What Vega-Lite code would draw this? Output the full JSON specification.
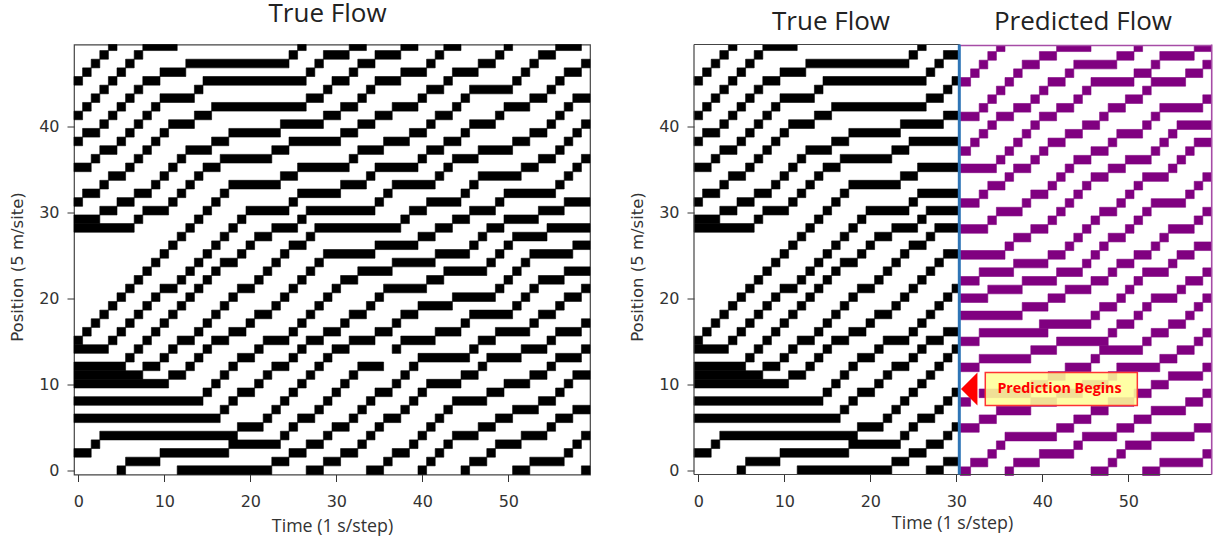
{"$schema":"https://vega.github.io/schema/vega-lite/v6.json","background":"white","padding":{"left":9,"top":0.5,"right":5,"bottom":5},"bounds":"flush","spacing":104,
"config":{"view":{"stroke":"#444","strokeWidth":1.2},"axis":{"grid":false,"domain":false,"labelFont":"DejaVu Sans","labelFontSize":16,"labelColor":"#333","labelPadding":8,"tickColor":"#333","tickSize":7,"titleFontWeight":"normal","titleColor":"#333"}},
"datasets":{
"trueFlow":[
{"s":3.5,"e":4.5,"lo":48.5,"hi":49.2},{"s":7.5,"e":11.5,"lo":48.5,"hi":49.2},{"s":25.5,"e":26.5,"lo":48.5,"hi":49.2},{"s":31.5,"e":33.5,"lo":48.5,"hi":49.2},{"s":37.5,"e":39.5,"lo":48.5,"hi":49.2},{"s":42.5,"e":44.5,"lo":48.5,"hi":49.2},{"s":49.5,"e":50.5,"lo":48.5,"hi":49.2},{"s":55.5,"e":58.5,"lo":48.5,"hi":49.2},
{"s":2.5,"e":3.5,"lo":47.5,"hi":48.5},{"s":6.5,"e":7.5,"lo":47.5,"hi":48.5},{"s":24.5,"e":25.5,"lo":47.5,"hi":48.5},{"s":28.5,"e":31.5,"lo":47.5,"hi":48.5},{"s":34.5,"e":37.5,"lo":47.5,"hi":48.5},{"s":41.5,"e":42.5,"lo":47.5,"hi":48.5},{"s":48.5,"e":49.5,"lo":47.5,"hi":48.5},{"s":53.5,"e":55.5,"lo":47.5,"hi":48.5},
{"s":1.5,"e":2.5,"lo":46.5,"hi":47.5},{"s":5.5,"e":6.5,"lo":46.5,"hi":47.5},{"s":12.5,"e":24.5,"lo":46.5,"hi":47.5},{"s":27.5,"e":28.5,"lo":46.5,"hi":47.5},{"s":32.5,"e":34.5,"lo":46.5,"hi":47.5},{"s":40.5,"e":41.5,"lo":46.5,"hi":47.5},{"s":46.5,"e":48.5,"lo":46.5,"hi":47.5},{"s":52.5,"e":53.5,"lo":46.5,"hi":47.5},{"s":58.5,"e":59.5,"lo":46.5,"hi":47.5},
{"s":0.5,"e":1.5,"lo":45.5,"hi":46.5},{"s":4.5,"e":5.5,"lo":45.5,"hi":46.5},{"s":9.5,"e":12.5,"lo":45.5,"hi":46.5},{"s":26.5,"e":27.5,"lo":45.5,"hi":46.5},{"s":31.5,"e":32.5,"lo":45.5,"hi":46.5},{"s":37.5,"e":40.5,"lo":45.5,"hi":46.5},{"s":43.5,"e":46.5,"lo":45.5,"hi":46.5},{"s":51.5,"e":52.5,"lo":45.5,"hi":46.5},{"s":56.5,"e":58.5,"lo":45.5,"hi":46.5},
{"s":-0.5,"e":0.5,"lo":44.5,"hi":45.5},{"s":3.5,"e":4.5,"lo":44.5,"hi":45.5},{"s":7.5,"e":9.5,"lo":44.5,"hi":45.5},{"s":14.5,"e":26.5,"lo":44.5,"hi":45.5},{"s":29.5,"e":31.5,"lo":44.5,"hi":45.5},{"s":34.5,"e":37.5,"lo":44.5,"hi":45.5},{"s":42.5,"e":43.5,"lo":44.5,"hi":45.5},{"s":50.5,"e":51.5,"lo":44.5,"hi":45.5},{"s":55.5,"e":56.5,"lo":44.5,"hi":45.5},
{"s":2.5,"e":3.5,"lo":43.5,"hi":44.5},{"s":6.5,"e":7.5,"lo":43.5,"hi":44.5},{"s":13.5,"e":14.5,"lo":43.5,"hi":44.5},{"s":28.5,"e":29.5,"lo":43.5,"hi":44.5},{"s":33.5,"e":34.5,"lo":43.5,"hi":44.5},{"s":40.5,"e":42.5,"lo":43.5,"hi":44.5},{"s":45.5,"e":50.5,"lo":43.5,"hi":44.5},{"s":54.5,"e":55.5,"lo":43.5,"hi":44.5},
{"s":1.5,"e":2.5,"lo":42.5,"hi":43.5},{"s":5.5,"e":6.5,"lo":42.5,"hi":43.5},{"s":9.5,"e":13.5,"lo":42.5,"hi":43.5},{"s":26.5,"e":28.5,"lo":42.5,"hi":43.5},{"s":32.5,"e":33.5,"lo":42.5,"hi":43.5},{"s":39.5,"e":40.5,"lo":42.5,"hi":43.5},{"s":44.5,"e":45.5,"lo":42.5,"hi":43.5},{"s":52.5,"e":54.5,"lo":42.5,"hi":43.5},{"s":57.5,"e":59.5,"lo":42.5,"hi":43.5},
{"s":0.5,"e":1.5,"lo":41.5,"hi":42.5},{"s":4.5,"e":5.5,"lo":41.5,"hi":42.5},{"s":8.5,"e":9.5,"lo":41.5,"hi":42.5},{"s":15.5,"e":26.5,"lo":41.5,"hi":42.5},{"s":30.5,"e":32.5,"lo":41.5,"hi":42.5},{"s":36.5,"e":39.5,"lo":41.5,"hi":42.5},{"s":43.5,"e":44.5,"lo":41.5,"hi":42.5},{"s":49.5,"e":52.5,"lo":41.5,"hi":42.5},{"s":56.5,"e":57.5,"lo":41.5,"hi":42.5},
{"s":-0.5,"e":0.5,"lo":40.5,"hi":41.5},{"s":3.5,"e":4.5,"lo":40.5,"hi":41.5},{"s":7.5,"e":8.5,"lo":40.5,"hi":41.5},{"s":13.5,"e":15.5,"lo":40.5,"hi":41.5},{"s":28.5,"e":30.5,"lo":40.5,"hi":41.5},{"s":34.5,"e":36.5,"lo":40.5,"hi":41.5},{"s":41.5,"e":43.5,"lo":40.5,"hi":41.5},{"s":48.5,"e":49.5,"lo":40.5,"hi":41.5},{"s":55.5,"e":56.5,"lo":40.5,"hi":41.5},
{"s":2.5,"e":3.5,"lo":39.5,"hi":40.5},{"s":6.5,"e":7.5,"lo":39.5,"hi":40.5},{"s":10.5,"e":13.5,"lo":39.5,"hi":40.5},{"s":23.5,"e":28.5,"lo":39.5,"hi":40.5},{"s":32.5,"e":34.5,"lo":39.5,"hi":40.5},{"s":40.5,"e":41.5,"lo":39.5,"hi":40.5},{"s":45.5,"e":48.5,"lo":39.5,"hi":40.5},{"s":54.5,"e":55.5,"lo":39.5,"hi":40.5},{"s":58.5,"e":59.5,"lo":39.5,"hi":40.5},
{"s":0.5,"e":2.5,"lo":38.5,"hi":39.5},{"s":5.5,"e":6.5,"lo":38.5,"hi":39.5},{"s":9.5,"e":10.5,"lo":38.5,"hi":39.5},{"s":17.5,"e":23.5,"lo":38.5,"hi":39.5},{"s":30.5,"e":32.5,"lo":38.5,"hi":39.5},{"s":38.5,"e":40.5,"lo":38.5,"hi":39.5},{"s":44.5,"e":45.5,"lo":38.5,"hi":39.5},{"s":52.5,"e":54.5,"lo":38.5,"hi":39.5},{"s":57.5,"e":58.5,"lo":38.5,"hi":39.5},
{"s":-0.5,"e":0.5,"lo":37.5,"hi":38.5},{"s":4.5,"e":5.5,"lo":37.5,"hi":38.5},{"s":8.5,"e":9.5,"lo":37.5,"hi":38.5},{"s":15.5,"e":17.5,"lo":37.5,"hi":38.5},{"s":24.5,"e":30.5,"lo":37.5,"hi":38.5},{"s":35.5,"e":38.5,"lo":37.5,"hi":38.5},{"s":42.5,"e":44.5,"lo":37.5,"hi":38.5},{"s":50.5,"e":52.5,"lo":37.5,"hi":38.5},{"s":56.5,"e":57.5,"lo":37.5,"hi":38.5},
{"s":2.5,"e":4.5,"lo":36.5,"hi":37.5},{"s":7.5,"e":8.5,"lo":36.5,"hi":37.5},{"s":12.5,"e":15.5,"lo":36.5,"hi":37.5},{"s":22.5,"e":24.5,"lo":36.5,"hi":37.5},{"s":32.5,"e":35.5,"lo":36.5,"hi":37.5},{"s":40.5,"e":42.5,"lo":36.5,"hi":37.5},{"s":46.5,"e":50.5,"lo":36.5,"hi":37.5},{"s":55.5,"e":56.5,"lo":36.5,"hi":37.5},
{"s":1.5,"e":2.5,"lo":35.5,"hi":36.5},{"s":6.5,"e":7.5,"lo":35.5,"hi":36.5},{"s":11.5,"e":12.5,"lo":35.5,"hi":36.5},{"s":16.5,"e":22.5,"lo":35.5,"hi":36.5},{"s":31.5,"e":32.5,"lo":35.5,"hi":36.5},{"s":39.5,"e":40.5,"lo":35.5,"hi":36.5},{"s":43.5,"e":46.5,"lo":35.5,"hi":36.5},{"s":53.5,"e":55.5,"lo":35.5,"hi":36.5},{"s":58.5,"e":59.5,"lo":35.5,"hi":36.5},
{"s":-0.5,"e":1.5,"lo":34.5,"hi":35.5},{"s":5.5,"e":6.5,"lo":34.5,"hi":35.5},{"s":10.5,"e":11.5,"lo":34.5,"hi":35.5},{"s":14.5,"e":16.5,"lo":34.5,"hi":35.5},{"s":25.5,"e":31.5,"lo":34.5,"hi":35.5},{"s":34.5,"e":39.5,"lo":34.5,"hi":35.5},{"s":42.5,"e":43.5,"lo":34.5,"hi":35.5},{"s":51.5,"e":53.5,"lo":34.5,"hi":35.5},{"s":57.5,"e":58.5,"lo":34.5,"hi":35.5},
{"s":3.5,"e":5.5,"lo":33.5,"hi":34.5},{"s":9.5,"e":10.5,"lo":33.5,"hi":34.5},{"s":13.5,"e":14.5,"lo":33.5,"hi":34.5},{"s":23.5,"e":25.5,"lo":33.5,"hi":34.5},{"s":33.5,"e":34.5,"lo":33.5,"hi":34.5},{"s":41.5,"e":42.5,"lo":33.5,"hi":34.5},{"s":46.5,"e":51.5,"lo":33.5,"hi":34.5},{"s":56.5,"e":57.5,"lo":33.5,"hi":34.5},
{"s":2.5,"e":3.5,"lo":32.5,"hi":33.5},{"s":8.5,"e":9.5,"lo":32.5,"hi":33.5},{"s":12.5,"e":13.5,"lo":32.5,"hi":33.5},{"s":17.5,"e":23.5,"lo":32.5,"hi":33.5},{"s":30.5,"e":33.5,"lo":32.5,"hi":33.5},{"s":36.5,"e":41.5,"lo":32.5,"hi":33.5},{"s":45.5,"e":46.5,"lo":32.5,"hi":33.5},{"s":55.5,"e":56.5,"lo":32.5,"hi":33.5},
{"s":0.5,"e":2.5,"lo":31.5,"hi":32.5},{"s":6.5,"e":8.5,"lo":31.5,"hi":32.5},{"s":11.5,"e":12.5,"lo":31.5,"hi":32.5},{"s":16.5,"e":17.5,"lo":31.5,"hi":32.5},{"s":25.5,"e":30.5,"lo":31.5,"hi":32.5},{"s":35.5,"e":36.5,"lo":31.5,"hi":32.5},{"s":44.5,"e":45.5,"lo":31.5,"hi":32.5},{"s":49.5,"e":55.5,"lo":31.5,"hi":32.5},
{"s":-0.5,"e":0.5,"lo":30.5,"hi":31.5},{"s":4.5,"e":6.5,"lo":30.5,"hi":31.5},{"s":10.5,"e":11.5,"lo":30.5,"hi":31.5},{"s":15.5,"e":16.5,"lo":30.5,"hi":31.5},{"s":24.5,"e":25.5,"lo":30.5,"hi":31.5},{"s":34.5,"e":35.5,"lo":30.5,"hi":31.5},{"s":40.5,"e":44.5,"lo":30.5,"hi":31.5},{"s":48.5,"e":49.5,"lo":30.5,"hi":31.5},{"s":56.5,"e":59.5,"lo":30.5,"hi":31.5},
{"s":2.5,"e":4.5,"lo":29.5,"hi":30.5},{"s":7.5,"e":10.5,"lo":29.5,"hi":30.5},{"s":14.5,"e":15.5,"lo":29.5,"hi":30.5},{"s":19.5,"e":24.5,"lo":29.5,"hi":30.5},{"s":26.5,"e":34.5,"lo":29.5,"hi":30.5},{"s":38.5,"e":40.5,"lo":29.5,"hi":30.5},{"s":45.5,"e":48.5,"lo":29.5,"hi":30.5},{"s":53.5,"e":56.5,"lo":29.5,"hi":30.5},
{"s":-0.5,"e":2.5,"lo":28.5,"hi":29.5},{"s":6.5,"e":7.5,"lo":28.5,"hi":29.5},{"s":13.5,"e":14.5,"lo":28.5,"hi":29.5},{"s":18.5,"e":19.5,"lo":28.5,"hi":29.5},{"s":25.5,"e":26.5,"lo":28.5,"hi":29.5},{"s":37.5,"e":38.5,"lo":28.5,"hi":29.5},{"s":43.5,"e":45.5,"lo":28.5,"hi":29.5},{"s":49.5,"e":53.5,"lo":28.5,"hi":29.5},
{"s":-0.5,"e":6.5,"lo":27.5,"hi":28.5},{"s":12.5,"e":13.5,"lo":27.5,"hi":28.5},{"s":17.5,"e":18.5,"lo":27.5,"hi":28.5},{"s":22.5,"e":25.5,"lo":27.5,"hi":28.5},{"s":27.5,"e":37.5,"lo":27.5,"hi":28.5},{"s":41.5,"e":43.5,"lo":27.5,"hi":28.5},{"s":47.5,"e":49.5,"lo":27.5,"hi":28.5},{"s":54.5,"e":59.5,"lo":27.5,"hi":28.5},
{"s":11.5,"e":12.5,"lo":26.5,"hi":27.5},{"s":16.5,"e":17.5,"lo":26.5,"hi":27.5},{"s":20.5,"e":22.5,"lo":26.5,"hi":27.5},{"s":26.5,"e":27.5,"lo":26.5,"hi":27.5},{"s":39.5,"e":41.5,"lo":26.5,"hi":27.5},{"s":46.5,"e":47.5,"lo":26.5,"hi":27.5},{"s":50.5,"e":54.5,"lo":26.5,"hi":27.5},
{"s":10.5,"e":11.5,"lo":25.5,"hi":26.5},{"s":15.5,"e":16.5,"lo":25.5,"hi":26.5},{"s":19.5,"e":20.5,"lo":25.5,"hi":26.5},{"s":24.5,"e":26.5,"lo":25.5,"hi":26.5},{"s":34.5,"e":39.5,"lo":25.5,"hi":26.5},{"s":45.5,"e":46.5,"lo":25.5,"hi":26.5},{"s":49.5,"e":50.5,"lo":25.5,"hi":26.5},{"s":57.5,"e":59.5,"lo":25.5,"hi":26.5},
{"s":9.5,"e":10.5,"lo":24.5,"hi":25.5},{"s":14.5,"e":15.5,"lo":24.5,"hi":25.5},{"s":18.5,"e":19.5,"lo":24.5,"hi":25.5},{"s":23.5,"e":24.5,"lo":24.5,"hi":25.5},{"s":28.5,"e":34.5,"lo":24.5,"hi":25.5},{"s":41.5,"e":45.5,"lo":24.5,"hi":25.5},{"s":48.5,"e":49.5,"lo":24.5,"hi":25.5},{"s":52.5,"e":57.5,"lo":24.5,"hi":25.5},
{"s":8.5,"e":9.5,"lo":23.5,"hi":24.5},{"s":13.5,"e":14.5,"lo":23.5,"hi":24.5},{"s":16.5,"e":18.5,"lo":23.5,"hi":24.5},{"s":22.5,"e":23.5,"lo":23.5,"hi":24.5},{"s":27.5,"e":28.5,"lo":23.5,"hi":24.5},{"s":36.5,"e":41.5,"lo":23.5,"hi":24.5},{"s":47.5,"e":48.5,"lo":23.5,"hi":24.5},{"s":51.5,"e":52.5,"lo":23.5,"hi":24.5},
{"s":7.5,"e":8.5,"lo":22.5,"hi":23.5},{"s":12.5,"e":13.5,"lo":22.5,"hi":23.5},{"s":15.5,"e":16.5,"lo":22.5,"hi":23.5},{"s":21.5,"e":22.5,"lo":22.5,"hi":23.5},{"s":26.5,"e":27.5,"lo":22.5,"hi":23.5},{"s":32.5,"e":36.5,"lo":22.5,"hi":23.5},{"s":42.5,"e":47.5,"lo":22.5,"hi":23.5},{"s":50.5,"e":51.5,"lo":22.5,"hi":23.5},{"s":56.5,"e":59.5,"lo":22.5,"hi":23.5},
{"s":6.5,"e":7.5,"lo":21.5,"hi":22.5},{"s":11.5,"e":12.5,"lo":21.5,"hi":22.5},{"s":14.5,"e":15.5,"lo":21.5,"hi":22.5},{"s":20.5,"e":21.5,"lo":21.5,"hi":22.5},{"s":25.5,"e":26.5,"lo":21.5,"hi":22.5},{"s":30.5,"e":32.5,"lo":21.5,"hi":22.5},{"s":40.5,"e":42.5,"lo":21.5,"hi":22.5},{"s":49.5,"e":50.5,"lo":21.5,"hi":22.5},{"s":53.5,"e":56.5,"lo":21.5,"hi":22.5},
{"s":5.5,"e":6.5,"lo":20.5,"hi":21.5},{"s":9.5,"e":11.5,"lo":20.5,"hi":21.5},{"s":13.5,"e":14.5,"lo":20.5,"hi":21.5},{"s":18.5,"e":20.5,"lo":20.5,"hi":21.5},{"s":24.5,"e":25.5,"lo":20.5,"hi":21.5},{"s":29.5,"e":30.5,"lo":20.5,"hi":21.5},{"s":35.5,"e":40.5,"lo":20.5,"hi":21.5},{"s":48.5,"e":49.5,"lo":20.5,"hi":21.5},{"s":52.5,"e":53.5,"lo":20.5,"hi":21.5},{"s":58.5,"e":59.5,"lo":20.5,"hi":21.5},
{"s":4.5,"e":5.5,"lo":19.5,"hi":20.5},{"s":8.5,"e":9.5,"lo":19.5,"hi":20.5},{"s":12.5,"e":13.5,"lo":19.5,"hi":20.5},{"s":17.5,"e":18.5,"lo":19.5,"hi":20.5},{"s":23.5,"e":24.5,"lo":19.5,"hi":20.5},{"s":28.5,"e":29.5,"lo":19.5,"hi":20.5},{"s":34.5,"e":35.5,"lo":19.5,"hi":20.5},{"s":43.5,"e":48.5,"lo":19.5,"hi":20.5},{"s":51.5,"e":52.5,"lo":19.5,"hi":20.5},{"s":56.5,"e":58.5,"lo":19.5,"hi":20.5},
{"s":3.5,"e":4.5,"lo":18.5,"hi":19.5},{"s":7.5,"e":8.5,"lo":18.5,"hi":19.5},{"s":11.5,"e":12.5,"lo":18.5,"hi":19.5},{"s":16.5,"e":17.5,"lo":18.5,"hi":19.5},{"s":22.5,"e":23.5,"lo":18.5,"hi":19.5},{"s":27.5,"e":28.5,"lo":18.5,"hi":19.5},{"s":33.5,"e":34.5,"lo":18.5,"hi":19.5},{"s":39.5,"e":43.5,"lo":18.5,"hi":19.5},{"s":50.5,"e":51.5,"lo":18.5,"hi":19.5},{"s":55.5,"e":56.5,"lo":18.5,"hi":19.5},
{"s":2.5,"e":3.5,"lo":17.5,"hi":18.5},{"s":6.5,"e":7.5,"lo":17.5,"hi":18.5},{"s":10.5,"e":11.5,"lo":17.5,"hi":18.5},{"s":15.5,"e":16.5,"lo":17.5,"hi":18.5},{"s":20.5,"e":22.5,"lo":17.5,"hi":18.5},{"s":26.5,"e":27.5,"lo":17.5,"hi":18.5},{"s":31.5,"e":33.5,"lo":17.5,"hi":18.5},{"s":37.5,"e":39.5,"lo":17.5,"hi":18.5},{"s":45.5,"e":50.5,"lo":17.5,"hi":18.5},{"s":53.5,"e":55.5,"lo":17.5,"hi":18.5},
{"s":1.5,"e":2.5,"lo":16.5,"hi":17.5},{"s":5.5,"e":6.5,"lo":16.5,"hi":17.5},{"s":9.5,"e":10.5,"lo":16.5,"hi":17.5},{"s":14.5,"e":15.5,"lo":16.5,"hi":17.5},{"s":19.5,"e":20.5,"lo":16.5,"hi":17.5},{"s":25.5,"e":26.5,"lo":16.5,"hi":17.5},{"s":30.5,"e":31.5,"lo":16.5,"hi":17.5},{"s":36.5,"e":37.5,"lo":16.5,"hi":17.5},{"s":44.5,"e":45.5,"lo":16.5,"hi":17.5},{"s":52.5,"e":53.5,"lo":16.5,"hi":17.5},{"s":58.5,"e":59.5,"lo":16.5,"hi":17.5},
{"s":0.5,"e":1.5,"lo":15.5,"hi":16.5},{"s":4.5,"e":5.5,"lo":15.5,"hi":16.5},{"s":8.5,"e":9.5,"lo":15.5,"hi":16.5},{"s":13.5,"e":14.5,"lo":15.5,"hi":16.5},{"s":17.5,"e":19.5,"lo":15.5,"hi":16.5},{"s":24.5,"e":25.5,"lo":15.5,"hi":16.5},{"s":28.5,"e":30.5,"lo":15.5,"hi":16.5},{"s":34.5,"e":36.5,"lo":15.5,"hi":16.5},{"s":41.5,"e":44.5,"lo":15.5,"hi":16.5},{"s":48.5,"e":52.5,"lo":15.5,"hi":16.5},{"s":55.5,"e":58.5,"lo":15.5,"hi":16.5},
{"s":-0.5,"e":0.5,"lo":14.5,"hi":15.5},{"s":3.5,"e":4.5,"lo":14.5,"hi":15.5},{"s":7.5,"e":8.5,"lo":14.5,"hi":15.5},{"s":11.5,"e":13.5,"lo":14.5,"hi":15.5},{"s":15.5,"e":17.5,"lo":14.5,"hi":15.5},{"s":21.5,"e":24.5,"lo":14.5,"hi":15.5},{"s":26.5,"e":28.5,"lo":14.5,"hi":15.5},{"s":31.5,"e":34.5,"lo":14.5,"hi":15.5},{"s":37.5,"e":41.5,"lo":14.5,"hi":15.5},{"s":46.5,"e":48.5,"lo":14.5,"hi":15.5},{"s":54.5,"e":55.5,"lo":14.5,"hi":15.5},
{"s":-0.5,"e":3.5,"lo":13.5,"hi":14.5},{"s":6.5,"e":7.5,"lo":13.5,"hi":14.5},{"s":10.5,"e":11.5,"lo":13.5,"hi":14.5},{"s":14.5,"e":15.5,"lo":13.5,"hi":14.5},{"s":20.5,"e":21.5,"lo":13.5,"hi":14.5},{"s":25.5,"e":26.5,"lo":13.5,"hi":14.5},{"s":29.5,"e":31.5,"lo":13.5,"hi":14.5},{"s":36.5,"e":37.5,"lo":13.5,"hi":14.5},{"s":45.5,"e":46.5,"lo":13.5,"hi":14.5},{"s":51.5,"e":54.5,"lo":13.5,"hi":14.5},{"s":58.5,"e":59.5,"lo":13.5,"hi":14.5},
{"s":5.5,"e":6.5,"lo":12.5,"hi":13.5},{"s":9.5,"e":10.5,"lo":12.5,"hi":13.5},{"s":13.5,"e":14.5,"lo":12.5,"hi":13.5},{"s":18.5,"e":20.5,"lo":12.5,"hi":13.5},{"s":24.5,"e":25.5,"lo":12.5,"hi":13.5},{"s":28.5,"e":29.5,"lo":12.5,"hi":13.5},{"s":39.5,"e":45.5,"lo":12.5,"hi":13.5},{"s":47.5,"e":51.5,"lo":12.5,"hi":13.5},{"s":55.5,"e":58.5,"lo":12.5,"hi":13.5},
{"s":-0.5,"e":5.5,"lo":11.5,"hi":12.5},{"s":7.5,"e":9.5,"lo":11.5,"hi":12.5},{"s":12.5,"e":13.5,"lo":11.5,"hi":12.5},{"s":17.5,"e":18.5,"lo":11.5,"hi":12.5},{"s":22.5,"e":24.5,"lo":11.5,"hi":12.5},{"s":27.5,"e":28.5,"lo":11.5,"hi":12.5},{"s":32.5,"e":35.5,"lo":11.5,"hi":12.5},{"s":38.5,"e":39.5,"lo":11.5,"hi":12.5},{"s":46.5,"e":47.5,"lo":11.5,"hi":12.5},{"s":54.5,"e":55.5,"lo":11.5,"hi":12.5},
{"s":-0.5,"e":7.5,"lo":10.5,"hi":11.5},{"s":10.5,"e":12.5,"lo":10.5,"hi":11.5},{"s":16.5,"e":17.5,"lo":10.5,"hi":11.5},{"s":21.5,"e":22.5,"lo":10.5,"hi":11.5},{"s":26.5,"e":27.5,"lo":10.5,"hi":11.5},{"s":31.5,"e":32.5,"lo":10.5,"hi":11.5},{"s":37.5,"e":38.5,"lo":10.5,"hi":11.5},{"s":44.5,"e":46.5,"lo":10.5,"hi":11.5},{"s":52.5,"e":54.5,"lo":10.5,"hi":11.5},{"s":57.5,"e":59.5,"lo":10.5,"hi":11.5},
{"s":-0.5,"e":10.5,"lo":9.5,"hi":10.5},{"s":15.5,"e":16.5,"lo":9.5,"hi":10.5},{"s":20.5,"e":21.5,"lo":9.5,"hi":10.5},{"s":25.5,"e":26.5,"lo":9.5,"hi":10.5},{"s":30.5,"e":31.5,"lo":9.5,"hi":10.5},{"s":36.5,"e":37.5,"lo":9.5,"hi":10.5},{"s":40.5,"e":44.5,"lo":9.5,"hi":10.5},{"s":49.5,"e":52.5,"lo":9.5,"hi":10.5},{"s":56.5,"e":57.5,"lo":9.5,"hi":10.5},
{"s":14.5,"e":15.5,"lo":8.5,"hi":9.5},{"s":18.5,"e":20.5,"lo":8.5,"hi":9.5},{"s":24.5,"e":25.5,"lo":8.5,"hi":9.5},{"s":29.5,"e":30.5,"lo":8.5,"hi":9.5},{"s":34.5,"e":36.5,"lo":8.5,"hi":9.5},{"s":39.5,"e":40.5,"lo":8.5,"hi":9.5},{"s":47.5,"e":49.5,"lo":8.5,"hi":9.5},{"s":55.5,"e":56.5,"lo":8.5,"hi":9.5},
{"s":-0.5,"e":14.5,"lo":7.5,"hi":8.5},{"s":17.5,"e":18.5,"lo":7.5,"hi":8.5},{"s":23.5,"e":24.5,"lo":7.5,"hi":8.5},{"s":28.5,"e":29.5,"lo":7.5,"hi":8.5},{"s":33.5,"e":34.5,"lo":7.5,"hi":8.5},{"s":38.5,"e":39.5,"lo":7.5,"hi":8.5},{"s":43.5,"e":47.5,"lo":7.5,"hi":8.5},{"s":53.5,"e":55.5,"lo":7.5,"hi":8.5},
{"s":16.5,"e":17.5,"lo":6.5,"hi":7.5},{"s":22.5,"e":23.5,"lo":6.5,"hi":7.5},{"s":27.5,"e":28.5,"lo":6.5,"hi":7.5},{"s":32.5,"e":33.5,"lo":6.5,"hi":7.5},{"s":37.5,"e":38.5,"lo":6.5,"hi":7.5},{"s":42.5,"e":43.5,"lo":6.5,"hi":7.5},{"s":50.5,"e":53.5,"lo":6.5,"hi":7.5},{"s":57.5,"e":59.5,"lo":6.5,"hi":7.5},
{"s":-0.5,"e":16.5,"lo":5.5,"hi":6.5},{"s":21.5,"e":22.5,"lo":5.5,"hi":6.5},{"s":25.5,"e":27.5,"lo":5.5,"hi":6.5},{"s":31.5,"e":32.5,"lo":5.5,"hi":6.5},{"s":35.5,"e":37.5,"lo":5.5,"hi":6.5},{"s":41.5,"e":42.5,"lo":5.5,"hi":6.5},{"s":48.5,"e":50.5,"lo":5.5,"hi":6.5},{"s":55.5,"e":57.5,"lo":5.5,"hi":6.5},
{"s":18.5,"e":21.5,"lo":4.5,"hi":5.5},{"s":24.5,"e":25.5,"lo":4.5,"hi":5.5},{"s":29.5,"e":31.5,"lo":4.5,"hi":5.5},{"s":34.5,"e":35.5,"lo":4.5,"hi":5.5},{"s":40.5,"e":41.5,"lo":4.5,"hi":5.5},{"s":46.5,"e":48.5,"lo":4.5,"hi":5.5},{"s":54.5,"e":55.5,"lo":4.5,"hi":5.5},
{"s":2.5,"e":18.5,"lo":3.5,"hi":4.5},{"s":23.5,"e":24.5,"lo":3.5,"hi":4.5},{"s":28.5,"e":29.5,"lo":3.5,"hi":4.5},{"s":33.5,"e":34.5,"lo":3.5,"hi":4.5},{"s":39.5,"e":40.5,"lo":3.5,"hi":4.5},{"s":43.5,"e":46.5,"lo":3.5,"hi":4.5},{"s":51.5,"e":54.5,"lo":3.5,"hi":4.5},{"s":58.5,"e":59.5,"lo":3.5,"hi":4.5},
{"s":1.5,"e":2.5,"lo":2.5,"hi":3.5},{"s":17.5,"e":23.5,"lo":2.5,"hi":3.5},{"s":26.5,"e":28.5,"lo":2.5,"hi":3.5},{"s":32.5,"e":33.5,"lo":2.5,"hi":3.5},{"s":38.5,"e":39.5,"lo":2.5,"hi":3.5},{"s":42.5,"e":43.5,"lo":2.5,"hi":3.5},{"s":48.5,"e":51.5,"lo":2.5,"hi":3.5},{"s":57.5,"e":58.5,"lo":2.5,"hi":3.5},
{"s":-0.5,"e":1.5,"lo":1.5,"hi":2.5},{"s":9.5,"e":17.5,"lo":1.5,"hi":2.5},{"s":24.5,"e":26.5,"lo":1.5,"hi":2.5},{"s":30.5,"e":32.5,"lo":1.5,"hi":2.5},{"s":36.5,"e":38.5,"lo":1.5,"hi":2.5},{"s":41.5,"e":42.5,"lo":1.5,"hi":2.5},{"s":47.5,"e":48.5,"lo":1.5,"hi":2.5},{"s":56.5,"e":57.5,"lo":1.5,"hi":2.5},
{"s":5.5,"e":9.5,"lo":0.5,"hi":1.5},{"s":22.5,"e":24.5,"lo":0.5,"hi":1.5},{"s":28.5,"e":30.5,"lo":0.5,"hi":1.5},{"s":35.5,"e":36.5,"lo":0.5,"hi":1.5},{"s":40.5,"e":41.5,"lo":0.5,"hi":1.5},{"s":45.5,"e":47.5,"lo":0.5,"hi":1.5},{"s":52.5,"e":56.5,"lo":0.5,"hi":1.5},
{"s":4.5,"e":5.5,"lo":-0.5,"hi":0.5},{"s":11.5,"e":22.5,"lo":-0.5,"hi":0.5},{"s":26.5,"e":28.5,"lo":-0.5,"hi":0.5},{"s":33.5,"e":35.5,"lo":-0.5,"hi":0.5},{"s":39.5,"e":40.5,"lo":-0.5,"hi":0.5},{"s":44.5,"e":45.5,"lo":-0.5,"hi":0.5},{"s":50.5,"e":52.5,"lo":-0.5,"hi":0.5},{"s":58.5,"e":59.5,"lo":-0.5,"hi":0.5}
],
"predicted":[
{"s":34.5,"e":35.5,"lo":48.5,"hi":49.2},{"s":41.5,"e":45.5,"lo":48.5,"hi":49.2},{"s":50.5,"e":51.5,"lo":48.5,"hi":49.2},{"s":57.5,"e":59.5,"lo":48.5,"hi":49.2},
{"s":33.5,"e":34.5,"lo":47.5,"hi":48.5},{"s":39.5,"e":41.5,"lo":47.5,"hi":48.5},{"s":48.5,"e":50.5,"lo":47.5,"hi":48.5},{"s":53.5,"e":57.5,"lo":47.5,"hi":48.5},
{"s":32.5,"e":33.5,"lo":46.5,"hi":47.5},{"s":37.5,"e":39.5,"lo":46.5,"hi":47.5},{"s":43.5,"e":48.5,"lo":46.5,"hi":47.5},{"s":52.5,"e":53.5,"lo":46.5,"hi":47.5},{"s":58.5,"e":59.5,"lo":46.5,"hi":47.5},
{"s":31.5,"e":32.5,"lo":45.5,"hi":46.5},{"s":36.5,"e":37.5,"lo":45.5,"hi":46.5},{"s":42.5,"e":43.5,"lo":45.5,"hi":46.5},{"s":50.5,"e":52.5,"lo":45.5,"hi":46.5},{"s":56.5,"e":58.5,"lo":45.5,"hi":46.5},
{"s":30.3,"e":31.5,"lo":44.5,"hi":45.5},{"s":35.5,"e":36.5,"lo":44.5,"hi":45.5},{"s":40.5,"e":42.5,"lo":44.5,"hi":45.5},{"s":45.5,"e":50.5,"lo":44.5,"hi":45.5},{"s":52.5,"e":56.5,"lo":44.5,"hi":45.5},
{"s":34.5,"e":35.5,"lo":43.5,"hi":44.5},{"s":39.5,"e":40.5,"lo":43.5,"hi":44.5},{"s":44.5,"e":45.5,"lo":43.5,"hi":44.5},{"s":51.5,"e":52.5,"lo":43.5,"hi":44.5},
{"s":33.5,"e":34.5,"lo":42.5,"hi":43.5},{"s":38.5,"e":39.5,"lo":42.5,"hi":43.5},{"s":43.5,"e":44.5,"lo":42.5,"hi":43.5},{"s":49.5,"e":51.5,"lo":42.5,"hi":43.5},{"s":58.5,"e":59.5,"lo":42.5,"hi":43.5},
{"s":32.5,"e":33.5,"lo":41.5,"hi":42.5},{"s":36.5,"e":38.5,"lo":41.5,"hi":42.5},{"s":41.5,"e":43.5,"lo":41.5,"hi":42.5},{"s":47.5,"e":49.5,"lo":41.5,"hi":42.5},{"s":53.5,"e":58.5,"lo":41.5,"hi":42.5},
{"s":30.3,"e":32.5,"lo":40.5,"hi":41.5},{"s":34.5,"e":36.5,"lo":40.5,"hi":41.5},{"s":39.5,"e":41.5,"lo":40.5,"hi":41.5},{"s":46.5,"e":47.5,"lo":40.5,"hi":41.5},{"s":52.5,"e":53.5,"lo":40.5,"hi":41.5},
{"s":33.5,"e":34.5,"lo":39.5,"hi":40.5},{"s":38.5,"e":39.5,"lo":39.5,"hi":40.5},{"s":44.5,"e":46.5,"lo":39.5,"hi":40.5},{"s":51.5,"e":52.5,"lo":39.5,"hi":40.5},{"s":55.5,"e":59.5,"lo":39.5,"hi":40.5},
{"s":32.5,"e":33.5,"lo":38.5,"hi":39.5},{"s":37.5,"e":38.5,"lo":38.5,"hi":39.5},{"s":42.5,"e":44.5,"lo":38.5,"hi":39.5},{"s":48.5,"e":51.5,"lo":38.5,"hi":39.5},{"s":54.5,"e":55.5,"lo":38.5,"hi":39.5},
{"s":31.5,"e":32.5,"lo":37.5,"hi":38.5},{"s":36.5,"e":37.5,"lo":37.5,"hi":38.5},{"s":40.5,"e":42.5,"lo":37.5,"hi":38.5},{"s":47.5,"e":48.5,"lo":37.5,"hi":38.5},{"s":53.5,"e":54.5,"lo":37.5,"hi":38.5},{"s":57.5,"e":59.5,"lo":37.5,"hi":38.5},
{"s":30.3,"e":31.5,"lo":36.5,"hi":37.5},{"s":35.5,"e":36.5,"lo":36.5,"hi":37.5},{"s":39.5,"e":40.5,"lo":36.5,"hi":37.5},{"s":45.5,"e":47.5,"lo":36.5,"hi":37.5},{"s":52.5,"e":53.5,"lo":36.5,"hi":37.5},{"s":56.5,"e":57.5,"lo":36.5,"hi":37.5},
{"s":34.5,"e":35.5,"lo":35.5,"hi":36.5},{"s":38.5,"e":39.5,"lo":35.5,"hi":36.5},{"s":43.5,"e":45.5,"lo":35.5,"hi":36.5},{"s":49.5,"e":52.5,"lo":35.5,"hi":36.5},{"s":55.5,"e":56.5,"lo":35.5,"hi":36.5},
{"s":30.3,"e":34.5,"lo":34.5,"hi":35.5},{"s":36.5,"e":38.5,"lo":34.5,"hi":35.5},{"s":42.5,"e":43.5,"lo":34.5,"hi":35.5},{"s":47.5,"e":49.5,"lo":34.5,"hi":35.5},{"s":54.5,"e":55.5,"lo":34.5,"hi":35.5},
{"s":35.5,"e":36.5,"lo":33.5,"hi":34.5},{"s":41.5,"e":42.5,"lo":33.5,"hi":34.5},{"s":45.5,"e":47.5,"lo":33.5,"hi":34.5},{"s":51.5,"e":54.5,"lo":33.5,"hi":34.5},{"s":58.5,"e":59.5,"lo":33.5,"hi":34.5},
{"s":33.5,"e":35.5,"lo":32.5,"hi":33.5},{"s":40.5,"e":41.5,"lo":32.5,"hi":33.5},{"s":44.5,"e":45.5,"lo":32.5,"hi":33.5},{"s":50.5,"e":51.5,"lo":32.5,"hi":33.5},{"s":57.5,"e":58.5,"lo":32.5,"hi":33.5},
{"s":32.5,"e":33.5,"lo":31.5,"hi":32.5},{"s":38.5,"e":40.5,"lo":31.5,"hi":32.5},{"s":43.5,"e":44.5,"lo":31.5,"hi":32.5},{"s":49.5,"e":50.5,"lo":31.5,"hi":32.5},{"s":56.5,"e":57.5,"lo":31.5,"hi":32.5},
{"s":30.3,"e":32.5,"lo":30.5,"hi":31.5},{"s":37.5,"e":38.5,"lo":30.5,"hi":31.5},{"s":42.5,"e":43.5,"lo":30.5,"hi":31.5},{"s":48.5,"e":49.5,"lo":30.5,"hi":31.5},{"s":52.5,"e":56.5,"lo":30.5,"hi":31.5},
{"s":34.5,"e":37.5,"lo":29.5,"hi":30.5},{"s":41.5,"e":42.5,"lo":29.5,"hi":30.5},{"s":46.5,"e":48.5,"lo":29.5,"hi":30.5},{"s":51.5,"e":52.5,"lo":29.5,"hi":30.5},{"s":58.5,"e":59.5,"lo":29.5,"hi":30.5},
{"s":33.5,"e":34.5,"lo":28.5,"hi":29.5},{"s":40.5,"e":41.5,"lo":28.5,"hi":29.5},{"s":45.5,"e":46.5,"lo":28.5,"hi":29.5},{"s":50.5,"e":51.5,"lo":28.5,"hi":29.5},{"s":57.5,"e":58.5,"lo":28.5,"hi":29.5},
{"s":30.3,"e":33.5,"lo":27.5,"hi":28.5},{"s":38.5,"e":40.5,"lo":27.5,"hi":28.5},{"s":44.5,"e":45.5,"lo":27.5,"hi":28.5},{"s":49.5,"e":50.5,"lo":27.5,"hi":28.5},{"s":54.5,"e":57.5,"lo":27.5,"hi":28.5},
{"s":36.5,"e":38.5,"lo":26.5,"hi":27.5},{"s":43.5,"e":44.5,"lo":26.5,"hi":27.5},{"s":47.5,"e":49.5,"lo":26.5,"hi":27.5},{"s":53.5,"e":54.5,"lo":26.5,"hi":27.5},
{"s":35.5,"e":36.5,"lo":25.5,"hi":26.5},{"s":42.5,"e":43.5,"lo":25.5,"hi":26.5},{"s":46.5,"e":47.5,"lo":25.5,"hi":26.5},{"s":52.5,"e":53.5,"lo":25.5,"hi":26.5},{"s":57.5,"e":59.5,"lo":25.5,"hi":26.5},
{"s":30.3,"e":35.5,"lo":24.5,"hi":25.5},{"s":40.5,"e":42.5,"lo":24.5,"hi":25.5},{"s":45.5,"e":46.5,"lo":24.5,"hi":25.5},{"s":50.5,"e":52.5,"lo":24.5,"hi":25.5},{"s":55.5,"e":57.5,"lo":24.5,"hi":25.5},
{"s":36.5,"e":40.5,"lo":23.5,"hi":24.5},{"s":44.5,"e":45.5,"lo":23.5,"hi":24.5},{"s":48.5,"e":50.5,"lo":23.5,"hi":24.5},{"s":54.5,"e":55.5,"lo":23.5,"hi":24.5},
{"s":32.5,"e":36.5,"lo":22.5,"hi":23.5},{"s":41.5,"e":44.5,"lo":22.5,"hi":23.5},{"s":47.5,"e":48.5,"lo":22.5,"hi":23.5},{"s":51.5,"e":54.5,"lo":22.5,"hi":23.5},{"s":58.5,"e":59.5,"lo":22.5,"hi":23.5},
{"s":30.3,"e":32.5,"lo":21.5,"hi":22.5},{"s":37.5,"e":41.5,"lo":21.5,"hi":22.5},{"s":45.5,"e":47.5,"lo":21.5,"hi":22.5},{"s":50.5,"e":51.5,"lo":21.5,"hi":22.5},{"s":56.5,"e":58.5,"lo":21.5,"hi":22.5},
{"s":33.5,"e":37.5,"lo":20.5,"hi":21.5},{"s":42.5,"e":45.5,"lo":20.5,"hi":21.5},{"s":49.5,"e":50.5,"lo":20.5,"hi":21.5},{"s":55.5,"e":56.5,"lo":20.5,"hi":21.5},
{"s":30.3,"e":33.5,"lo":19.5,"hi":20.5},{"s":40.5,"e":42.5,"lo":19.5,"hi":20.5},{"s":48.5,"e":49.5,"lo":19.5,"hi":20.5},{"s":52.5,"e":55.5,"lo":19.5,"hi":20.5},{"s":58.5,"e":59.5,"lo":19.5,"hi":20.5},
{"s":37.5,"e":40.5,"lo":18.5,"hi":19.5},{"s":46.5,"e":48.5,"lo":18.5,"hi":19.5},{"s":51.5,"e":52.5,"lo":18.5,"hi":19.5},{"s":57.5,"e":58.5,"lo":18.5,"hi":19.5},
{"s":30.3,"e":37.5,"lo":17.5,"hi":18.5},{"s":45.5,"e":46.5,"lo":17.5,"hi":18.5},{"s":50.5,"e":51.5,"lo":17.5,"hi":18.5},{"s":56.5,"e":57.5,"lo":17.5,"hi":18.5},
{"s":39.5,"e":45.5,"lo":16.5,"hi":17.5},{"s":48.5,"e":50.5,"lo":16.5,"hi":17.5},{"s":54.5,"e":56.5,"lo":16.5,"hi":17.5},
{"s":32.5,"e":40.5,"lo":15.5,"hi":16.5},{"s":47.5,"e":48.5,"lo":15.5,"hi":16.5},{"s":52.5,"e":54.5,"lo":15.5,"hi":16.5},{"s":58.5,"e":59.5,"lo":15.5,"hi":16.5},
{"s":30.3,"e":32.5,"lo":14.5,"hi":15.5},{"s":41.5,"e":47.5,"lo":14.5,"hi":15.5},{"s":51.5,"e":52.5,"lo":14.5,"hi":15.5},{"s":57.5,"e":58.5,"lo":14.5,"hi":15.5},
{"s":38.5,"e":41.5,"lo":13.5,"hi":14.5},{"s":46.5,"e":51.5,"lo":13.5,"hi":14.5},{"s":55.5,"e":57.5,"lo":13.5,"hi":14.5},
{"s":32.5,"e":38.5,"lo":12.5,"hi":13.5},{"s":45.5,"e":46.5,"lo":12.5,"hi":13.5},{"s":53.5,"e":55.5,"lo":12.5,"hi":13.5},
{"s":30.3,"e":32.5,"lo":11.5,"hi":12.5},{"s":42.5,"e":45.5,"lo":11.5,"hi":12.5},{"s":48.5,"e":53.5,"lo":11.5,"hi":12.5},{"s":58.5,"e":59.5,"lo":11.5,"hi":12.5},
{"s":40.5,"e":42.5,"lo":10.5,"hi":11.5},{"s":47.5,"e":48.5,"lo":10.5,"hi":11.5},{"s":54.5,"e":58.5,"lo":10.5,"hi":11.5},
{"s":38.5,"e":40.5,"lo":9.5,"hi":10.5},{"s":44.5,"e":47.5,"lo":9.5,"hi":10.5},{"s":52.5,"e":54.5,"lo":9.5,"hi":10.5},
{"s":32.5,"e":38.5,"lo":8.5,"hi":9.5},{"s":41.5,"e":44.5,"lo":8.5,"hi":9.5},{"s":50.5,"e":52.5,"lo":8.5,"hi":9.5},{"s":58.5,"e":59.5,"lo":8.5,"hi":9.5},
{"s":30.3,"e":31.5,"lo":7.5,"hi":8.5},{"s":38.5,"e":41.5,"lo":7.5,"hi":8.5},{"s":47.5,"e":50.5,"lo":7.5,"hi":8.5},{"s":56.5,"e":58.5,"lo":7.5,"hi":8.5},
{"s":34.5,"e":38.5,"lo":6.5,"hi":7.5},{"s":45.5,"e":47.5,"lo":6.5,"hi":7.5},{"s":52.5,"e":56.5,"lo":6.5,"hi":7.5},
{"s":32.5,"e":34.5,"lo":5.5,"hi":6.5},{"s":43.5,"e":45.5,"lo":5.5,"hi":6.5},{"s":50.5,"e":52.5,"lo":5.5,"hi":6.5},
{"s":30.3,"e":32.5,"lo":4.5,"hi":5.5},{"s":41.5,"e":43.5,"lo":4.5,"hi":5.5},{"s":48.5,"e":50.5,"lo":4.5,"hi":5.5},{"s":57.5,"e":59.5,"lo":4.5,"hi":5.5},
{"s":35.5,"e":41.5,"lo":3.5,"hi":4.5},{"s":44.5,"e":48.5,"lo":3.5,"hi":4.5},{"s":52.5,"e":57.5,"lo":3.5,"hi":4.5},
{"s":34.5,"e":35.5,"lo":2.5,"hi":3.5},{"s":43.5,"e":44.5,"lo":2.5,"hi":3.5},{"s":49.5,"e":52.5,"lo":2.5,"hi":3.5},
{"s":33.5,"e":34.5,"lo":1.5,"hi":2.5},{"s":39.5,"e":43.5,"lo":1.5,"hi":2.5},{"s":48.5,"e":49.5,"lo":1.5,"hi":2.5},{"s":58.5,"e":59.5,"lo":1.5,"hi":2.5},
{"s":31.5,"e":33.5,"lo":0.5,"hi":1.5},{"s":36.5,"e":39.5,"lo":0.5,"hi":1.5},{"s":47.5,"e":48.5,"lo":0.5,"hi":1.5},{"s":53.5,"e":58.5,"lo":0.5,"hi":1.5},
{"s":30.3,"e":31.5,"lo":-0.5,"hi":0.5},{"s":35.5,"e":36.5,"lo":-0.5,"hi":0.5},{"s":45.5,"e":47.5,"lo":-0.5,"hi":0.5},{"s":51.5,"e":53.5,"lo":-0.5,"hi":0.5}
]},
"hconcat":[
{"width":516,"height":430,"resolve":{"scale":{"y":"independent"}},"layer":[
{"data":{"name":"trueFlow"},"mark":{"type":"rect","color":"black","stroke":"black","strokeWidth":0.6},
"encoding":{"x":{"field":"s","type":"quantitative","scale":{"domain":[-0.5,59.5],"nice":false,"zero":false},"axis":{"values":[0,10,20,30,40,50],"labelPadding":12,"title":"Time (1 s/step)","titleFont":"Open Sans","titleFontSize":17.8,"titlePadding":8}},"x2":{"field":"e"},
"y":{"field":"lo","type":"quantitative","scale":{"domain":[-0.5,49.2],"nice":false,"zero":false},"axis":null},"y2":{"field":"hi"}}},
{"data":{"values":[{"label":"True Flow","t":28.98,"v":53.0}]},"mark":{"type":"text","font":"Open Sans","fontSize":26,"baseline":"middle","color":"#222"},"encoding":{"x":{"field":"t","type":"quantitative"},"y":{"field":"v","type":"quantitative","scale":{"domain":[-0.5,49.5],"nice":false,"zero":false},"axis":{"values":[0,10,20,30,40],"title":"Position (5 m/site)","titleFont":"DejaVu Sans","titleFontSize":16.5,"titlePadding":13,"titleY":222}},"text":{"field":"label"}}}
]},
{"width":516,"height":430,"view":{"stroke":null},"resolve":{"scale":{"x":"independent","y":"independent"}},"layer":[
{"data":{"name":"trueFlow"},"transform":[{"filter":"datum.s<30.3"}],"mark":{"type":"rect","color":"black","stroke":"black","strokeWidth":0.6},
"encoding":{"x":{"field":"s","type":"quantitative","scale":{"domain":[-0.5,59.5],"nice":false,"zero":false},"axis":null},"x2":{"field":"e"},
"y":{"field":"lo","type":"quantitative","scale":{"domain":[-0.5,49.2],"nice":false,"zero":false},"axis":null},"y2":{"field":"hi"}}},
{"data":{"values":[{"s":30.35,"e":59.5,"lo":-0.5,"hi":49.5}]},"mark":{"type":"rect","color":"white"},"encoding":{"x":{"field":"s","type":"quantitative","scale":{"domain":[-0.5,59.5],"nice":false,"zero":false},"axis":null},"x2":{"field":"e"},"y":{"field":"lo","type":"quantitative","scale":{"domain":[-0.5,49.5],"nice":false,"zero":false},"axis":null},"y2":{"field":"hi"}}},
{"data":{"name":"predicted"},"mark":{"type":"rect","color":"#800080","stroke":"#800080","strokeWidth":0.6},"encoding":{"x":{"field":"s","type":"quantitative","scale":{"domain":[-0.663,59.337],"nice":false,"zero":false},"axis":null},"x2":{"field":"e"},"y":{"field":"lo","type":"quantitative","scale":{"domain":[-0.384,49.316],"nice":false,"zero":false},"axis":null},"y2":{"field":"hi"}}},
{"layer":[
{"data":{"values":[{"a":-0.5,"b":-0.5,"c":-0.5,"d":49.5},{"a":-0.5,"b":59.7,"c":-0.5,"d":-0.5},{"a":-0.5,"b":30.4,"c":49.5,"d":49.5}]},"mark":{"type":"rule","color":"#444","strokeWidth":1.2},"encoding":{"x":{"field":"a","type":"quantitative","scale":{"domain":[-0.5,59.5],"nice":false,"zero":false},"axis":{"values":[0,10,20,30,40,50],"labelPadding":12,"title":"Time (1 s/step)","titleFont":"Open Sans","titleFontSize":17.8,"titlePadding":5}},"x2":{"field":"b"},"y":{"field":"c","type":"quantitative","scale":{"domain":[-0.5,49.5],"nice":false,"zero":false},"axis":{"values":[0,10,20,30,40],"title":"Position (5 m/site)","titleFont":"DejaVu Sans","titleFontSize":16.5,"titlePadding":13,"titleY":222}},"y2":{"field":"d"}}},
{"data":{"values":[{"a":30.4,"b":59.7,"c":49.38,"d":49.38},{"a":59.7,"b":59.7,"c":-0.5,"d":49.5}]},"mark":{"type":"rule","color":"#a64ca6","strokeWidth":1.6},"encoding":{"x":{"field":"a","type":"quantitative"},"x2":{"field":"b"},"y":{"field":"c","type":"quantitative"},"y2":{"field":"d"}}},
{"data":{"values":[{"t":30.35}]},"mark":{"type":"rule","color":"#2e75b6","strokeWidth":3},"encoding":{"x":{"field":"t","type":"quantitative"}}},
{"data":{"values":[{"s":33.37,"e":51.05,"lo":7.52,"hi":11.36}]},"mark":{"type":"rect","fill":"#ffff99","fillOpacity":0.88,"stroke":"#ff3333","strokeWidth":1.5},"encoding":{"x":{"field":"s","type":"quantitative"},"x2":{"field":"e"},"y":{"field":"lo","type":"quantitative"},"y2":{"field":"hi"}}},
{"data":{"values":[{"t":31.5,"v":9.44}]},"mark":{"type":"point","shape":"M-0.5,0L0.5,-1L0.5,1Z","size":1089,"filled":true,"color":"#ff0000","opacity":1},"encoding":{"x":{"field":"t","type":"quantitative"},"y":{"field":"v","type":"quantitative"}}},
{"data":{"values":[{"label":"Prediction Begins","t":42.0,"v":9.44}]},"mark":{"type":"text","font":"Open Sans","fontWeight":"bold","fontSize":14.3,"color":"#ff0000"},"encoding":{"x":{"field":"t","type":"quantitative"},"y":{"field":"v","type":"quantitative"},"text":{"field":"label"}}},
{"data":{"values":[{"label":"True Flow","t":15.43,"v":52.17},{"label":"Predicted Flow","t":44.73,"v":52.17}]},"mark":{"type":"text","font":"Open Sans","fontSize":26,"baseline":"middle","color":"#222"},"encoding":{"x":{"field":"t","type":"quantitative"},"y":{"field":"v","type":"quantitative"},"text":{"field":"label"}}}
]}
]}
]}
